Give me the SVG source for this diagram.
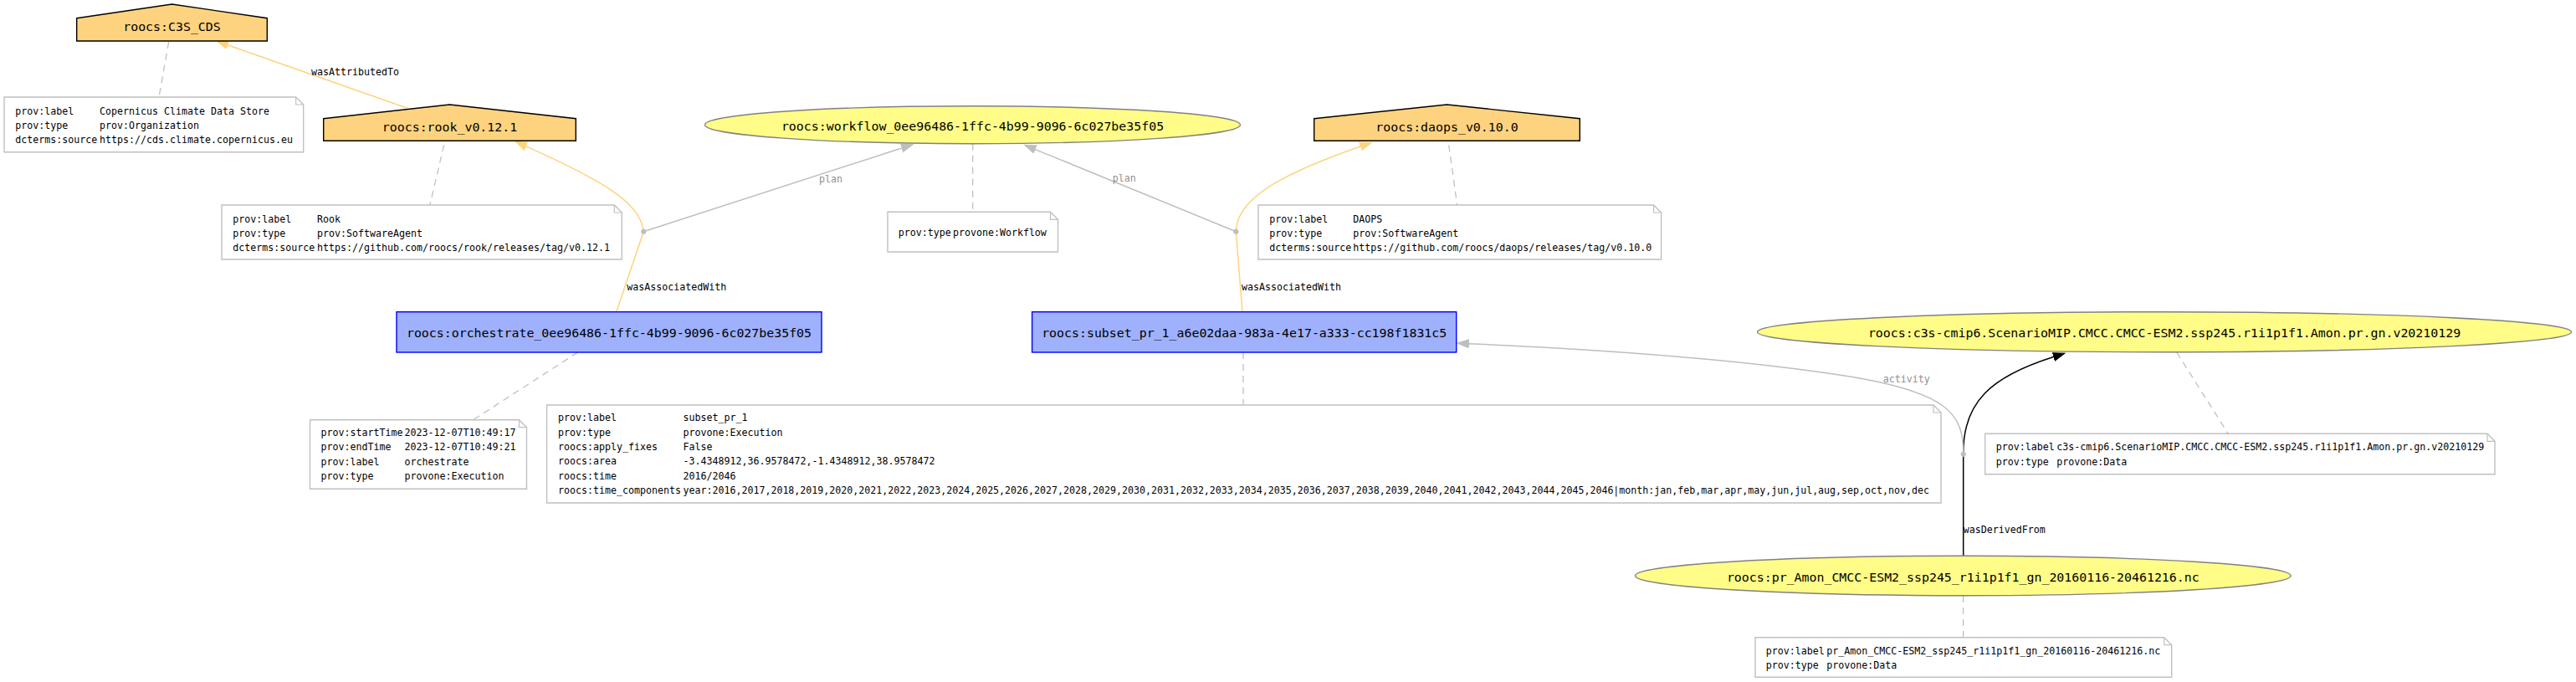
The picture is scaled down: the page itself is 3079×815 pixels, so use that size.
<svg xmlns="http://www.w3.org/2000/svg" width="3079" height="815" viewBox="0 0 3079 815">
<defs>
<style>
.agent{fill:#FED37F;stroke:#000;stroke-width:1.4}
.entity{fill:#FFFC87;stroke:#808080;stroke-width:1.4}
.activity{fill:#9FB1FC;stroke:#0000FF;stroke-width:1.4}
.note{fill:#fff;stroke:#C0C0C0;stroke-width:1.4}
.fold{fill:none;stroke:#C0C0C0;stroke-width:1.2}
.blank{fill:#BEBEBE;stroke:#BEBEBE}
.lbl{font-family:"DejaVu Sans Mono",monospace;font-size:14.9px;fill:#000;text-anchor:middle}
.nt{font-family:"DejaVu Sans Mono",monospace;font-size:11.63px;fill:#000}
.gl{fill:#909090}
.ann{stroke:#C0C0C0;stroke-dasharray:8,6;fill:none;stroke-width:1.3}
.eo{stroke:#FED37F;fill:none;stroke-width:1.5}
.eg{stroke:#BEBEBE;fill:none;stroke-width:1.5}
.eb{stroke:#000;fill:none;stroke-width:1.5}
</style>
<marker id="ao" viewBox="0 -6 15 12" markerWidth="15" markerHeight="12" refX="0" refY="0" orient="auto" markerUnits="userSpaceOnUse"><path d="M0,-5L14,0L0,5z" fill="#FED37F" stroke="#FED37F"/></marker>
<marker id="ag" viewBox="0 -6 15 12" markerWidth="15" markerHeight="12" refX="0" refY="0" orient="auto" markerUnits="userSpaceOnUse"><path d="M0,-5L14,0L0,5z" fill="#BEBEBE" stroke="#BEBEBE"/></marker>
<marker id="ab" viewBox="0 -6 15 12" markerWidth="15" markerHeight="12" refX="0" refY="0" orient="auto" markerUnits="userSpaceOnUse"><path d="M0,-5L14,0L0,5z" fill="#000" stroke="#000"/></marker>
</defs>
<rect width="3079" height="815" fill="#fff"/>

<g id="connectors">
<path class="ann" d="M201.7,50L190,116"/>
<path class="ann" d="M530.7,173.3L513.8,245"/>
<path class="ann" d="M1162.7,171.7L1162.7,253.3"/>
<path class="ann" d="M1731.7,173.3L1741.7,245"/>
<path class="ann" d="M690.6,421L565.6,501.7"/>
<path class="ann" d="M1486,421L1486,484"/>
<path class="ann" d="M2601.7,421L2663.3,518.3"/>
<path class="ann" d="M2346.6,712L2346.6,761.7"/>

<path class="eo" d="M486.7,129.3L272.2,53.7" marker-end="url(#ao)"/>
<text class="nt" x="372" y="90">wasAttributedTo</text>

<path class="eo" d="M736.7,372.7L769.3,276.7"/>
<path class="eo" d="M769.3,276.7C766,245 730,220 628.8,174.9" marker-end="url(#ao)"/>
<text class="nt" x="749.3" y="346.7">wasAssociatedWith</text>
<path class="eg" d="M769.3,276.7L1077.7,177" marker-end="url(#ag)"/>
<text class="nt gl" x="979" y="217.7">plan</text>

<path class="eo" d="M1485,372.7L1477.3,276.7"/>
<path class="eo" d="M1477.3,276.7C1478,235 1540,205 1626,175" marker-end="url(#ao)"/>
<text class="nt" x="1484" y="346.7">wasAssociatedWith</text>
<path class="eg" d="M1477.3,276.7L1237.5,178.6" marker-end="url(#ag)"/>
<text class="nt gl" x="1329.7" y="217.3">plan</text>

<path class="eb" d="M2346.7,664.3L2346.7,542.7"/>
<path class="eb" d="M2346.7,542.7C2346,480 2380,450 2454.5,426.5" marker-end="url(#ab)"/>
<text class="nt" x="2346.7" y="637.3">wasDerivedFrom</text>
<path class="eg" d="M2346.7,542.7C2347,495 2330,468 2200,448.3C2070,428.6 1900,417 1755.7,410.7" marker-end="url(#ag)"/>
<text class="nt gl" x="2250.7" y="457.3">activity</text>
</g>

<g id="blank1"><circle class="blank" cx="769.3" cy="276.7" r="2.7"/></g>
<g id="blank2"><circle class="blank" cx="1477.3" cy="276.7" r="2.7"/></g>
<g id="blank3"><circle class="blank" cx="2346.7" cy="542.7" r="2.7"/></g>

<g id="C3S_CDS">
<polygon class="agent" points="91.7,21.7 205.5,5 319.3,21.7 319.3,49 91.7,49"/>
<text class="lbl" x="205.5" y="36.7">roocs:C3S_CDS</text>
</g>
<g id="note_C3S_CDS">
<path class="note" d="M5,116L353.7,116L362.7,125L362.7,181.7L5,181.7Z"/>
<path class="fold" d="M353.7,116L353.7,125L362.7,125"/>
<text class="nt" x="18.3" y="136.7">prov:label</text><text class="nt" x="119" y="136.7">Copernicus Climate Data Store</text>
<text class="nt" x="18.3" y="154">prov:type</text><text class="nt" x="119" y="154">prov:Organization</text>
<text class="nt" x="18.3" y="171.3">dcterms:source</text><text class="nt" x="119" y="171.3">https://cds.climate.copernicus.eu</text>
</g>

<g id="rook">
<polygon class="agent" points="386.7,141.7 537.5,125 688.3,141.7 688.3,168.3 386.7,168.3"/>
<text class="lbl" x="537.5" y="156.7">roocs:rook_v0.12.1</text>
</g>
<g id="note_rook">
<path class="note" d="M265,245L734.3,245L743.3,254L743.3,310L265,310Z"/>
<path class="fold" d="M734.3,245L734.3,254L743.3,254"/>
<text class="nt" x="278.3" y="265.5">prov:label</text><text class="nt" x="379" y="265.5">Rook</text>
<text class="nt" x="278.3" y="282.8">prov:type</text><text class="nt" x="379" y="282.8">prov:SoftwareAgent</text>
<text class="nt" x="278.3" y="300.1">dcterms:source</text><text class="nt" x="379" y="300.1">https://github.com/roocs/rook/releases/tag/v0.12.1</text>
</g>

<g id="workflow">
<ellipse class="entity" cx="1162.5" cy="149.2" rx="320" ry="22.5"/>
<text class="lbl" x="1162.5" y="155.7">roocs:workflow_0ee96486-1ffc-4b99-9096-6c027be35f05</text>
</g>
<g id="note_workflow">
<path class="note" d="M1061,253.3L1255.5,253.3L1264.5,262.3L1264.5,301L1061,301Z"/>
<path class="fold" d="M1255.5,253.3L1255.5,262.3L1264.5,262.3"/>
<text class="nt" x="1073.7" y="281.7">prov:type</text><text class="nt" x="1138.9" y="281.7">provone:Workflow</text>
</g>

<g id="daops">
<polygon class="agent" points="1570.7,141.7 1729.5,125 1888.3,141.7 1888.3,168.3 1570.7,168.3"/>
<text class="lbl" x="1729.5" y="156.7">roocs:daops_v0.10.0</text>
</g>
<g id="note_daops">
<path class="note" d="M1504,245L1976.6,245L1985.6,254L1985.6,310L1504,310Z"/>
<path class="fold" d="M1976.6,245L1976.6,254L1985.6,254"/>
<text class="nt" x="1517.3" y="265.5">prov:label</text><text class="nt" x="1617.3" y="265.5">DAOPS</text>
<text class="nt" x="1517.3" y="282.8">prov:type</text><text class="nt" x="1617.3" y="282.8">prov:SoftwareAgent</text>
<text class="nt" x="1517.3" y="300.1">dcterms:source</text><text class="nt" x="1617.3" y="300.1">https://github.com/roocs/daops/releases/tag/v0.10.0</text>
</g>

<g id="orchestrate">
<rect class="activity" x="474" y="372.7" width="508" height="48.3"/>
<text class="lbl" x="728" y="403.3">roocs:orchestrate_0ee96486-1ffc-4b99-9096-6c027be35f05</text>
</g>
<g id="note_orchestrate">
<path class="note" d="M370.5,501.7L620.5,501.7L629.5,510.7L629.5,584.3L370.5,584.3Z"/>
<path class="fold" d="M620.5,501.7L620.5,510.7L629.5,510.7"/>
<text class="nt" x="383.5" y="521">prov:startTime</text><text class="nt" x="483.5" y="521">2023-12-07T10:49:17</text>
<text class="nt" x="383.5" y="538.3">prov:endTime</text><text class="nt" x="483.5" y="538.3">2023-12-07T10:49:21</text>
<text class="nt" x="383.5" y="555.7">prov:label</text><text class="nt" x="483.5" y="555.7">orchestrate</text>
<text class="nt" x="383.5" y="573">prov:type</text><text class="nt" x="483.5" y="573">provone:Execution</text>
</g>

<g id="subset">
<rect class="activity" x="1233.6" y="372.7" width="507.1" height="48.3"/>
<text class="lbl" x="1487.2" y="403.3">roocs:subset_pr_1_a6e02daa-983a-4e17-a333-cc198f1831c5</text>
</g>
<g id="note_subset">
<path class="note" d="M653.6,484L2311,484L2320,493L2320,601L653.6,601Z"/>
<path class="fold" d="M2311,484L2311,493L2320,493"/>
<text class="nt" x="667" y="503.3">prov:label</text><text class="nt" x="816.5" y="503.3">subset_pr_1</text>
<text class="nt" x="667" y="520.6">prov:type</text><text class="nt" x="816.5" y="520.6">provone:Execution</text>
<text class="nt" x="667" y="537.9">roocs:apply_fixes</text><text class="nt" x="816.5" y="537.9">False</text>
<text class="nt" x="667" y="555.2">roocs:area</text><text class="nt" x="816.5" y="555.2">-3.4348912,36.9578472,-1.4348912,38.9578472</text>
<text class="nt" x="667" y="572.5">roocs:time</text><text class="nt" x="816.5" y="572.5">2016/2046</text>
<text class="nt" x="667" y="589.8">roocs:time_components</text><text class="nt" x="816.5" y="589.8" textLength="1489.5" lengthAdjust="spacingAndGlyphs">year:2016,2017,2018,2019,2020,2021,2022,2023,2024,2025,2026,2027,2028,2029,2030,2031,2032,2033,2034,2035,2036,2037,2038,2039,2040,2041,2042,2043,2044,2045,2046|month:jan,feb,mar,apr,may,jun,jul,aug,sep,oct,nov,dec</text>
</g>

<g id="c3s_dataset">
<ellipse class="entity" cx="2587" cy="396.7" rx="486.5" ry="24"/>
<text class="lbl" x="2587" y="403.3">roocs:c3s-cmip6.ScenarioMIP.CMCC.CMCC-ESM2.ssp245.r1i1p1f1.Amon.pr.gn.v20210129</text>
</g>
<g id="note_c3s_dataset">
<path class="note" d="M2372.7,518.3L2973,518.3L2982,527.3L2982,566.7L2372.7,566.7Z"/>
<path class="fold" d="M2973,518.3L2973,527.3L2982,527.3"/>
<text class="nt" x="2385.7" y="538.3">prov:label</text><text class="nt" x="2458.3" y="538.3">c3s-cmip6.ScenarioMIP.CMCC.CMCC-ESM2.ssp245.r1i1p1f1.Amon.pr.gn.v20210129</text>
<text class="nt" x="2385.7" y="556">prov:type</text><text class="nt" x="2458.3" y="556">provone:Data</text>
</g>

<g id="pr_file">
<ellipse class="entity" cx="2346.3" cy="688" rx="391.8" ry="23.7"/>
<text class="lbl" x="2346.3" y="694.7">roocs:pr_Amon_CMCC-ESM2_ssp245_r1i1p1f1_gn_20160116-20461216.nc</text>
</g>
<g id="note_pr_file">
<path class="note" d="M2098,761.7L2586.7,761.7L2595.7,770.7L2595.7,809.3L2098,809.3Z"/>
<path class="fold" d="M2586.7,761.7L2586.7,770.7L2595.7,770.7"/>
<text class="nt" x="2110.7" y="781.7">prov:label</text><text class="nt" x="2183.3" y="781.7">pr_Amon_CMCC-ESM2_ssp245_r1i1p1f1_gn_20160116-20461216.nc</text>
<text class="nt" x="2110.7" y="799">prov:type</text><text class="nt" x="2183.3" y="799">provone:Data</text>
</g>
</svg>
